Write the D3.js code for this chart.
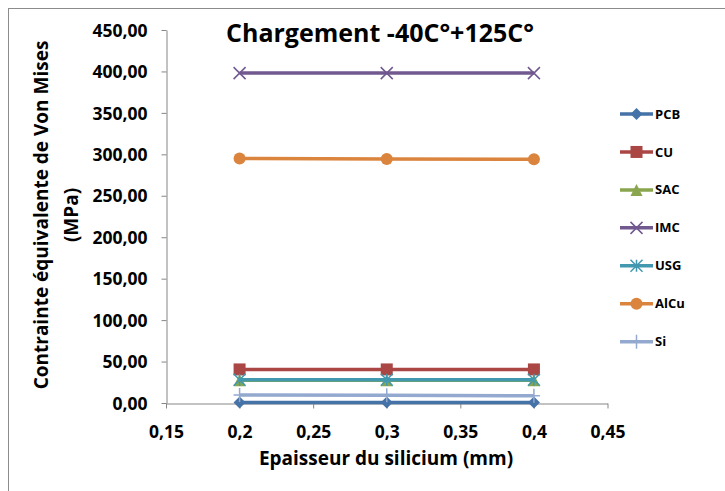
<!DOCTYPE html>
<html>
<head>
<meta charset="utf-8">
<script src="https://cdn.jsdelivr.net/npm/d3@7"></script>
<style>
  html, body { margin: 0; padding: 0; background: #fff; }
  svg { display: block; }
  text { font-family: "Open Sans", sans-serif; font-weight: 700; fill: #000; }
</style>
</head>
<body>
<svg id="chart" width="725" height="491"></svg>
<script>
// Silicon thickness (mm)
const thickness = [0.2, 0.3, 0.4];

// Von Mises equivalent stress (MPa) per material
const seriesNames = ["PCB", "CU", "SAC", "IMC", "USG", "AlCu", "Si"];
const pcb  = [0.5, 0.5, 0.5];
const cu   = [40.5, 40.5, 40.5];
const sac  = [27.5, 27.5, 27.5];
const imc  = [398, 398, 398];
const usg  = [28, 28, 28];
const alcu = [295, 294.3, 294];
const si   = [9.8, 9.2, 8.6];

const xTicks = [0.15, 0.2, 0.25, 0.3, 0.35, 0.4, 0.45];
const yTicks = [0, 50, 100, 150, 200, 250, 300, 350, 400, 450];

const colors  = ["#4572A7", "#AA4643", "#89A54E", "#71588F", "#4198AF", "#DB843D", "#93A9CF"];
const markers = ["diamond", "square", "triangle", "cross", "asterisk", "circle", "plus"];
const values  = [pcb, cu, sac, imc, usg, alcu, si];

const FONT = "'Open Sans', sans-serif";

const svg = d3.select("#chart");

// outer chart frame
svg.append("rect")
  .attr("x", 8.5).attr("y", 8.5)
  .attr("width", 730).attr("height", 500)
  .attr("fill", "none").attr("stroke", "#8c8c8c").attr("stroke-width", 1);

const plot = { left: 166, right: 607.5, top: 30, bottom: 403 };

const x = d3.scaleLinear().domain([0.15, 0.45]).range([plot.left, plot.right]);
const y = d3.scaleLinear().domain([0, 450]).range([plot.bottom, plot.top]);

const fmtY = v => d3.format(".2f")(v).replace(".", ",");
const fmtX = v => String(v).replace(".", ",");

// Y axis
const yAxis = svg.append("g")
  .attr("transform", `translate(${plot.left + 0.5},0)`)
  .call(d3.axisLeft(y).tickValues(yTicks).tickFormat(fmtY).tickSize(5).tickSizeOuter(0).tickPadding(14));
yAxis.attr("font-family", FONT).attr("font-weight", 700).attr("font-size", 17.5);
yAxis.selectAll("path, line").attr("stroke", "#868686");
yAxis.selectAll("text").attr("dy", "0.35em");

// X axis
const xAxis = svg.append("g")
  .attr("transform", `translate(0,${plot.bottom + 0.5})`)
  .call(d3.axisBottom(x).tickValues(xTicks).tickFormat(fmtX).tickSize(5).tickSizeOuter(0).tickPadding(17));
xAxis.attr("font-family", FONT).attr("font-weight", 700).attr("font-size", 17.5);
xAxis.selectAll("path, line").attr("stroke", "#868686");

// Title
svg.append("text")
  .attr("x", 380).attr("y", 42)
  .attr("text-anchor", "middle")
  .attr("font-size", 25)
  .text("Chargement -40C°+125C°");

// Axis titles
svg.append("text")
  .attr("x", 386).attr("y", 465)
  .attr("text-anchor", "middle")
  .attr("font-size", 19)
  .text("Epaisseur du silicium (mm)");

const yTitle = svg.append("text")
  .attr("transform", "translate(0,215) rotate(-90)")
  .attr("text-anchor", "middle")
  .attr("font-size", 19);
yTitle.append("tspan").attr("x", 0).attr("y", 48).text("Contrainte équivalente de Von Mises");
yTitle.append("tspan").attr("x", 0).attr("y", 78).text("(MPa)");

// Marker drawing
function drawMarker(g, type, color) {
  const s = 6;
  switch (type) {
    case "diamond":
      g.append("path").attr("d", `M0,${-s}L${s},0L0,${s}L${-s},0Z`).attr("fill", color);
      break;
    case "square":
      g.append("rect").attr("x", -s).attr("y", -s).attr("width", 2 * s).attr("height", 2 * s).attr("fill", color);
      break;
    case "triangle":
      g.append("path").attr("d", `M0,${-s}L${s},${s}L${-s},${s}Z`).attr("fill", color);
      break;
    case "cross":
      g.append("path").attr("d", `M${-s},${-s}L${s},${s}M${-s},${s}L${s},${-s}`)
        .attr("stroke", color).attr("stroke-width", 1.5).attr("fill", "none");
      break;
    case "asterisk":
      g.append("path").attr("d", `M${-s},${-s}L${s},${s}M${-s},${s}L${s},${-s}M0,${-s}L0,${s}`)
        .attr("stroke", color).attr("stroke-width", 1.5).attr("fill", "none");
      break;
    case "circle":
      g.append("circle").attr("r", s).attr("fill", color);
      break;
    case "plus":
      g.append("path").attr("d", `M0,${-s - 1}L0,${s + 1}M${-s},0L${s},0`)
        .attr("stroke", color).attr("stroke-width", 1.5).attr("fill", "none");
      break;
  }
}

const line = d3.line().x(d => x(d[0])).y(d => y(d[1]));

// Series lines and markers
seriesNames.forEach((name, i) => {
  const pts = thickness.map((t, j) => [t, values[i][j]]);
  const g = svg.append("g").attr("class", "series");
  g.append("path")
    .attr("d", line(pts))
    .attr("fill", "none")
    .attr("stroke", colors[i])
    .attr("stroke-width", 3.5);
  pts.forEach(p => {
    const m = g.append("g").attr("transform", `translate(${x(p[0])},${y(p[1])})`);
    drawMarker(m, markers[i], colors[i]);
  });
});

// Legend
const legendY = d3.scalePoint().domain(seriesNames).range([114, 341.7]);
seriesNames.forEach((name, i) => {
  const ly = legendY(name);
  const g = svg.append("g").attr("transform", `translate(0,${ly})`);
  g.append("line").attr("x1", 620).attr("x2", 653).attr("y1", 0).attr("y2", 0)
    .attr("stroke", colors[i]).attr("stroke-width", 3.5);
  const m = g.append("g").attr("transform", "translate(636.5,0)");
  drawMarker(m, markers[i], colors[i]);
  g.append("text").attr("x", 655).attr("y", 0).attr("dy", "0.35em")
    .attr("font-size", 13).text(name);
});
</script>
</body>
</html>
